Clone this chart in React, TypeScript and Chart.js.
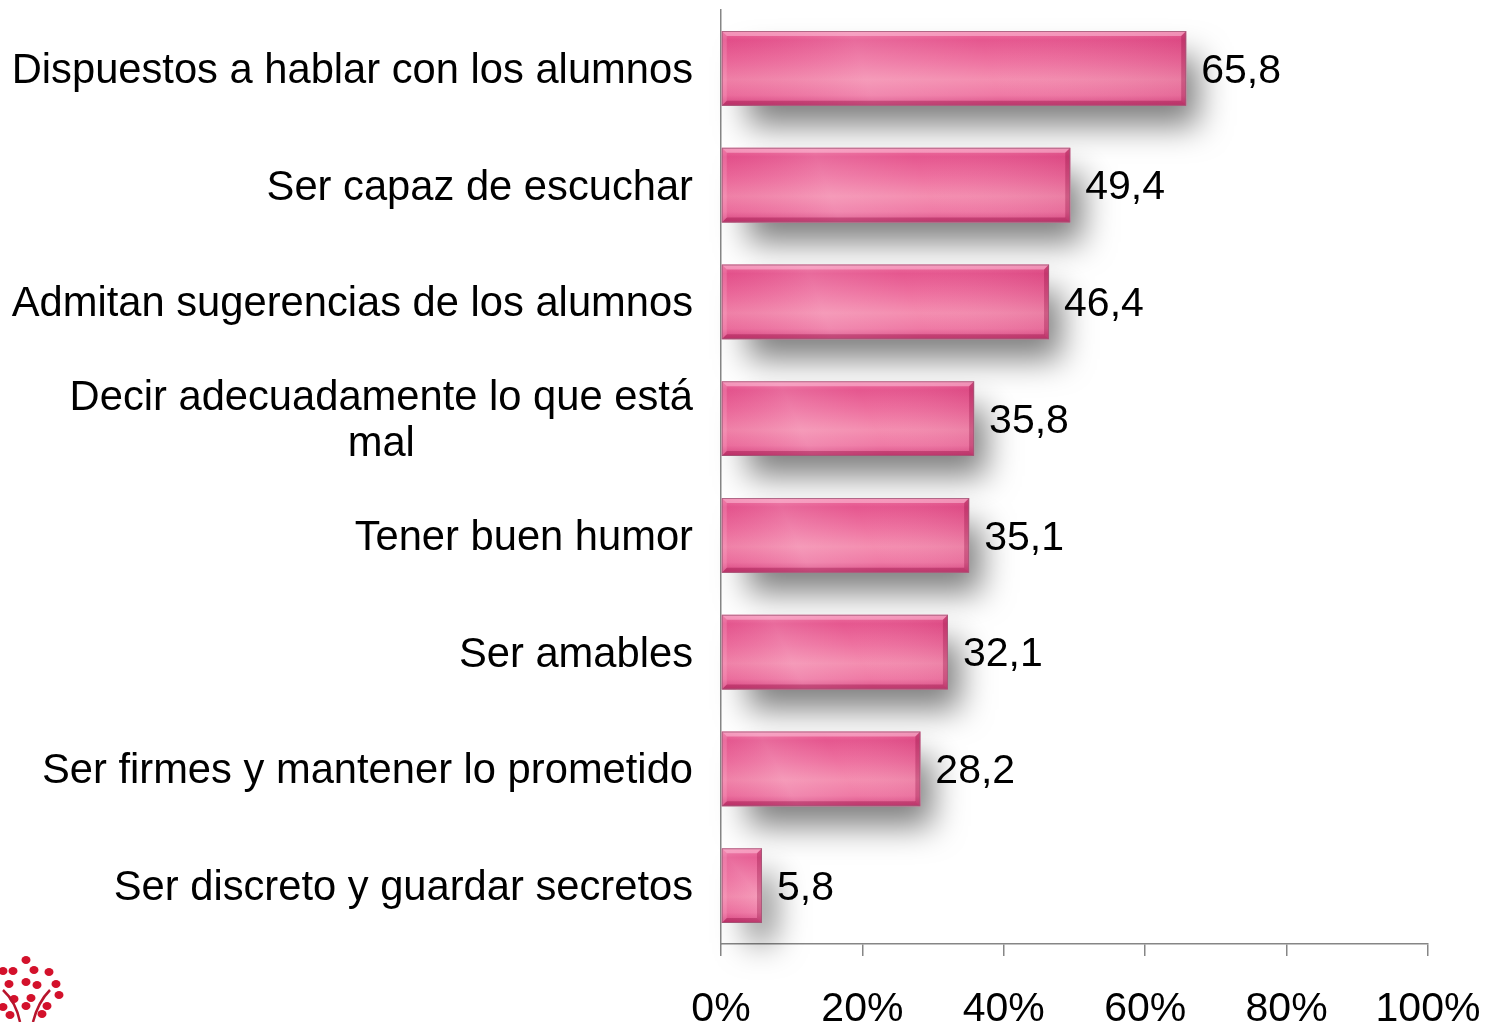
import React, { useEffect, useRef } from "react";
import { Chart, registerables } from "chart.js";

Chart.register(...registerables);

const categories: (string | string[])[] = [
  "Dispuestos a hablar con los alumnos",
  "Ser capaz de escuchar",
  "Admitan sugerencias de los alumnos",
  ["Decir adecuadamente lo que está", "mal"],
  "Tener buen humor",
  "Ser amables",
  "Ser firmes y mantener lo prometido",
  "Ser discreto y guardar secretos",
];
const values = [65.8, 49.4, 46.4, 35.8, 35.1, 32.1, 28.2, 5.8];
const valueLabels = ["65,8", "49,4", "46,4", "35,8", "35,1", "32,1", "28,2", "5,8"];
const xTickValues = [0, 20, 40, 60, 80, 100];

const FONT = "'Liberation Sans', Arial, sans-serif";
const W = 1485;
const H = 1022;
const AXIS_LEFT = 721;
const AXIS_BOTTOM = 944;

function barRects(chart: any) {
  const meta = chart.getDatasetMeta(0);
  return meta.data.map((el: any) => {
    const p = el.getProps(["x", "y", "base", "height"], true);
    const l = Math.min(p.x, p.base);
    const r = Math.max(p.x, p.base);
    return { l, r, t: p.y - p.height / 2, b: p.y + p.height / 2, y: p.y };
  });
}

const barStylePlugin = {
  id: "barStyle",
  beforeDatasetsDraw(chart: any) {
    const ctx = chart.ctx as CanvasRenderingContext2D;
    const rects = barRects(chart);
    // shadows
    rects.forEach((rc: any) => {
      ctx.save();
      ctx.shadowColor = "rgba(0,0,0,0.5)";
      ctx.shadowBlur = 32;
      ctx.shadowOffsetX = 12;
      ctx.shadowOffsetY = 20;
      ctx.fillStyle = "#ffffff";
      ctx.fillRect(rc.l + 14, rc.t + 6, rc.r - rc.l - 14, rc.b - rc.t - 6);
      ctx.restore();
    });
    // fills
    rects.forEach((rc: any) => {
      const { l, r, t, b } = rc;
      const h = b - t;
      ctx.save();
      const g = ctx.createLinearGradient(0, t, 0, b);
      g.addColorStop(0, "#ee6a9c");
      g.addColorStop(0.12, "#e44e89");
      g.addColorStop(0.4, "#ed6a9b");
      g.addColorStop(0.65, "#f388ac");
      g.addColorStop(0.86, "#ee72a0");
      g.addColorStop(1, "#d6447f");
      ctx.fillStyle = g;
      ctx.fillRect(l, t, r - l, h);
      const span = Math.max(r - l, 120);
      const g2 = ctx.createLinearGradient(l, b, l + span, t - span * 0.15);
      g2.addColorStop(0, "rgba(200,40,110,0.10)");
      g2.addColorStop(0.3, "rgba(255,255,255,0.16)");
      g2.addColorStop(0.55, "rgba(255,255,255,0.05)");
      g2.addColorStop(1, "rgba(170,20,80,0.18)");
      ctx.fillStyle = g2;
      ctx.fillRect(l, t, r - l, h);
      ctx.restore();
    });
  },
  afterDatasetsDraw(chart: any) {
    const ctx = chart.ctx as CanvasRenderingContext2D;
    const rects = barRects(chart);
    rects.forEach((rc: any, i: number) => {
      const { l, r, t, b } = rc;
      const bv = 5;
      ctx.save();
      // top bevel
      ctx.beginPath();
      ctx.moveTo(l, t);
      ctx.lineTo(r, t);
      ctx.lineTo(r - bv, t + bv);
      ctx.lineTo(l + bv, t + bv);
      ctx.closePath();
      ctx.fillStyle = "rgba(255,200,222,0.5)";
      ctx.fill();
      // bottom bevel
      ctx.beginPath();
      ctx.moveTo(l, b);
      ctx.lineTo(r, b);
      ctx.lineTo(r - bv, b - bv);
      ctx.lineTo(l + bv, b - bv);
      ctx.closePath();
      ctx.fillStyle = "rgba(140,10,60,0.35)";
      ctx.fill();
      // right bevel
      ctx.beginPath();
      ctx.moveTo(r, t);
      ctx.lineTo(r, b);
      ctx.lineTo(r - bv, b - bv);
      ctx.lineTo(r - bv, t + bv);
      ctx.closePath();
      ctx.fillStyle = "rgba(140,10,60,0.3)";
      ctx.fill();
      // left bevel
      ctx.beginPath();
      ctx.moveTo(l, t);
      ctx.lineTo(l, b);
      ctx.lineTo(l + bv, b - bv);
      ctx.lineTo(l + bv, t + bv);
      ctx.closePath();
      ctx.fillStyle = "rgba(255,190,215,0.22)";
      ctx.fill();
      // outline
      ctx.strokeStyle = "rgba(160,90,120,0.8)";
      ctx.lineWidth = 1;
      ctx.strokeRect(l + 0.5, t + 0.5, r - l - 1, b - t - 1);
      // value label
      ctx.fillStyle = "#000000";
      ctx.font = `41px ${FONT}`;
      ctx.textAlign = "left";
      ctx.textBaseline = "middle";
      ctx.fillText(valueLabels[i], r + 15, rc.y + 3);
      ctx.restore();
    });
  },
};

const categoryLabelPlugin = {
  id: "categoryLabels",
  afterDraw(chart: any) {
    const ctx = chart.ctx as CanvasRenderingContext2D;
    const yScale = chart.scales.y;
    const right = AXIS_LEFT - 28;
    const lineH = 46;
    ctx.save();
    ctx.font = `41.7px ${FONT}`;
    ctx.fillStyle = "#000000";
    ctx.textAlign = "center";
    ctx.textBaseline = "middle";
    categories.forEach((cat, i) => {
      const lines = Array.isArray(cat) ? cat : [cat];
      const widest = Math.max(...lines.map((s) => ctx.measureText(s).width));
      const cx = right - widest / 2;
      const cy = yScale.getPixelForValue(i);
      const startY = cy - ((lines.length - 1) * lineH) / 2;
      lines.forEach((s, k) => {
        ctx.fillText(s, cx, startY + k * lineH + 3);
      });
    });
    ctx.restore();
  },
};

const logoPlugin = {
  id: "logo",
  afterDraw(chart: any) {
    const ctx = chart.ctx as CanvasRenderingContext2D;
    ctx.save();
    ctx.fillStyle = "#d3112b";
    ctx.strokeStyle = "#b8142c";
    const dots: [number, number][] = [
      [26, 960], [3, 971], [13, 971], [34, 970], [49, 972], [9, 984], [26, 982],
      [37, 985], [56, 984], [59, 995], [14, 999], [31, 998], [47, 1006], [26, 1006],
      [3, 1007], [10, 1015], [42, 1014],
    ];
    dots.forEach(([x, y]) => {
      ctx.beginPath();
      ctx.ellipse(x, y, 4.5, 4, 0, 0, Math.PI * 2);
      ctx.fill();
    });
    ctx.lineWidth = 2.5;
    ctx.beginPath();
    ctx.moveTo(3, 990);
    ctx.quadraticCurveTo(16, 1002, 20, 1022);
    ctx.stroke();
    ctx.beginPath();
    ctx.moveTo(50, 990);
    ctx.quadraticCurveTo(38, 1002, 33, 1022);
    ctx.stroke();
    ctx.restore();
  },
};

export default function App() {
  const canvasRef = useRef<HTMLCanvasElement | null>(null);

  useEffect(() => {
    const canvas = canvasRef.current;
    if (!canvas) return;
    const chart = new Chart(canvas, {
      type: "bar",
      data: {
        labels: categories as any,
        datasets: [
          {
            data: values,
            backgroundColor: "rgba(0,0,0,0)",
            borderWidth: 0,
            categoryPercentage: 1,
            barPercentage: 0.64,
          },
        ],
      },
      options: {
        indexAxis: "y",
        responsive: false,
        animation: false,
        devicePixelRatio: 1,
        layout: { padding: { top: 10, right: 57, left: 0, bottom: 0 } },
        plugins: {
          legend: { display: false },
          tooltip: { enabled: false },
        },
        scales: {
          x: {
            min: 0,
            max: 100,
            afterBuildTicks: (scale: any) => {
              scale.ticks = xTickValues.map((v) => ({ value: v }));
            },
            afterFit: (scale: any) => {
              scale.height = H - AXIS_BOTTOM;
              scale.paddingRight = 0;
              scale.paddingLeft = 0;
            },
            ticks: {
              callback: (v: any) => `${v}%`,
              font: { family: FONT, size: 41 },
              color: "#000000",
              padding: 29,
              maxRotation: 0,
              autoSkip: false,
            },
            grid: {
              drawOnChartArea: false,
              drawTicks: true,
              tickLength: 12,
              color: "#868686",
              lineWidth: 1.5,
            },
            border: { display: true, color: "#868686", width: 1.5 },
          },
          y: {
            ticks: { display: false },
            afterFit: (scale: any) => {
              scale.width = AXIS_LEFT;
            },
            grid: { display: true, drawOnChartArea: false, drawTicks: false, color: "#868686" },
            border: { display: true, color: "#868686", width: 1.5 },
          },
        },
      },
      plugins: [barStylePlugin, categoryLabelPlugin, logoPlugin],
    });
    return () => chart.destroy();
  }, []);

  return (
    <div
      style={{
        position: "fixed",
        left: 0,
        top: 0,
        width: W,
        height: H,
        overflow: "hidden",
        background: "#ffffff",
      }}
    >
      <canvas ref={canvasRef} width={W} height={H} style={{ width: W, height: H, display: "block" }} />
    </div>
  );
}
